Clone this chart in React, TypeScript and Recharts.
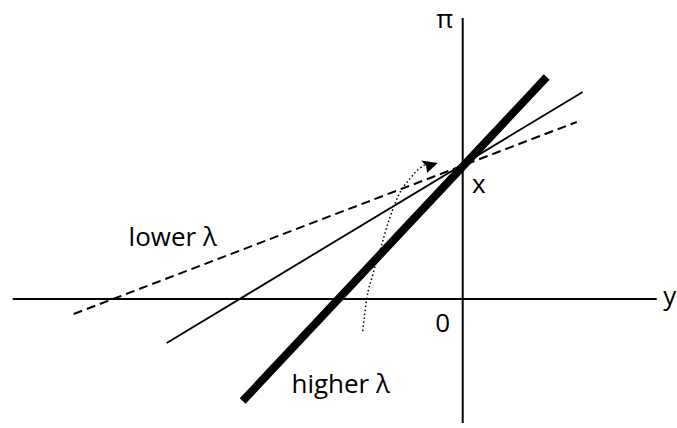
import {
  LineChart,
  Line,
  XAxis,
  YAxis,
  ReferenceLine,
  ReferenceDot,
} from "recharts";

// Horizontal axis = y (output), vertical axis = π (inflation); origin at 0.
const higherY = [-2.2, 0.84];
const higherPi = [-1.02, 2.22];

const middleY = [-2.96, 1.2];
const middlePi = [-0.44, 2.07];

const lowerY = [-3.89, 1.14];
const lowerPi = [-0.15, 1.77];

// dotted arrow showing the rotation of the curve
const shiftY = [-1.0, -0.96, -0.9, -0.82, -0.73, -0.63, -0.53, -0.45, -0.38];
const shiftPi = [-0.32, 0.0, 0.24, 0.51, 0.81, 1.06, 1.2, 1.29, 1.34];
const arrowTip = { y: -0.25, pi: 1.36 };

const axisY = [-4.5, 1.94];
const axisPi = [-1.24, 2.81];

const labels = [
  { text: "π", y: -0.18, pi: 2.8 },
  { text: "y", y: 2.07, pi: 0.03 },
  { text: "x", y: 0.16, pi: 1.15 },
  { text: "0", y: -0.2, pi: -0.24 },
  { text: "lower λ", y: -2.9, pi: 0.62 },
  { text: "higher λ", y: -1.22, pi: -0.85 },
];

const toRows = (ys: number[], pis: number[]) =>
  ys.map((y, i) => ({ y, pi: pis[i] }));

const FONT = "'Open Sans', 'Noto Sans', sans-serif";

function ArrowHead(props: any) {
  const { cx, cy } = props;
  if (cx == null || cy == null) return <g />;
  const pts = [
    [0, 0],
    [-16.6, -2.6],
    [-11.6, 2.7],
    [-10.6, 10],
  ]
    .map(([dx, dy]) => `${cx + dx},${cy + dy}`)
    .join(" ");
  return <polygon points={pts} fill="#000" />;
}

export default function App() {
  return (
    <div style={{ position: "absolute", left: 0, top: 0, background: "#fff" }}>
      <LineChart
        width={677}
        height={428}
        margin={{ top: 0, right: 0, bottom: 0, left: 0 }}
      >
        <XAxis
          type="number"
          dataKey="y"
          domain={[-4.627, 2.143]}
          allowDataOverflow
          hide
        />
        <YAxis
          type="number"
          dataKey="pi"
          domain={[-1.29, 2.99]}
          allowDataOverflow
          hide
        />

        <ReferenceLine
          segment={[
            { x: axisY[0], y: 0 },
            { x: axisY[1], y: 0 },
          ]}
          stroke="#000"
          strokeWidth={2}
        />
        <ReferenceLine
          segment={[
            { x: 0, y: axisPi[0] },
            { x: 0, y: axisPi[1] },
          ]}
          stroke="#000"
          strokeWidth={2}
        />

        <Line
          data={toRows(lowerY, lowerPi)}
          dataKey="pi"
          type="linear"
          stroke="#000"
          strokeWidth={2}
          strokeDasharray="9 5"
          dot={false}
          activeDot={false}
          isAnimationActive={false}
        />
        <Line
          data={toRows(middleY, middlePi)}
          dataKey="pi"
          type="linear"
          stroke="#000"
          strokeWidth={1.8}
          dot={false}
          activeDot={false}
          isAnimationActive={false}
        />
        <Line
          data={toRows(higherY, higherPi)}
          dataKey="pi"
          type="linear"
          stroke="#000"
          strokeWidth={8}
          dot={false}
          activeDot={false}
          isAnimationActive={false}
        />
        <Line
          data={toRows(shiftY, shiftPi)}
          dataKey="pi"
          type="monotone"
          stroke="#000"
          strokeWidth={1.5}
          strokeDasharray="1.5 2.5"
          dot={false}
          activeDot={false}
          isAnimationActive={false}
        />
        <ReferenceDot
          x={arrowTip.y}
          y={arrowTip.pi}
          r={0}
          shape={ArrowHead}
        />

        {labels.map((l) => (
          <ReferenceDot
            key={l.text}
            x={l.y}
            y={l.pi}
            r={0}
            fill="none"
            stroke="none"
            label={{
              value: l.text,
              position: "center",
              fill: "#000",
              fontSize: 26,
              fontFamily: FONT,
            }}
          />
        ))}
      </LineChart>
    </div>
  );
}
